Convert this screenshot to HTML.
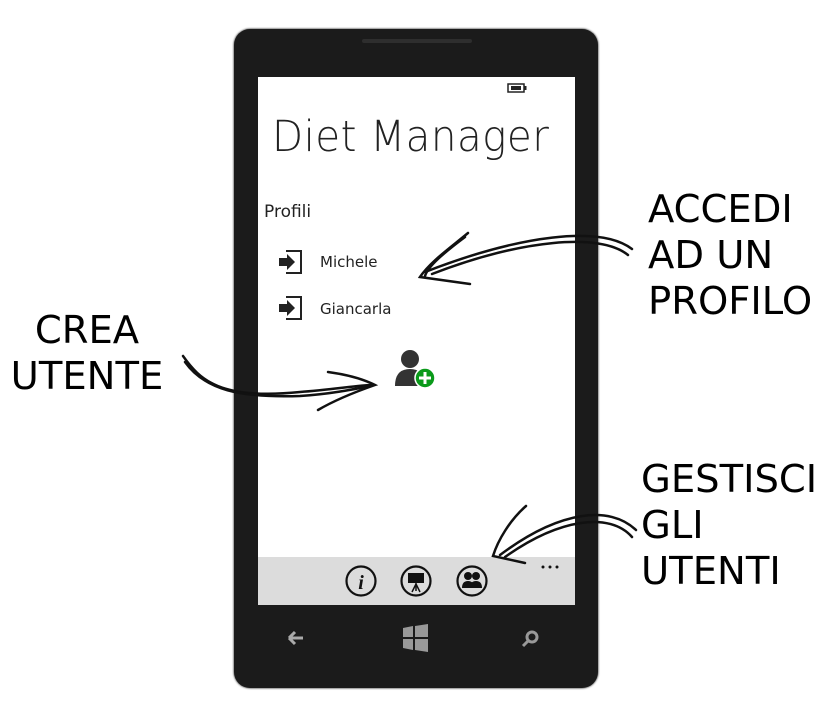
<!DOCTYPE html>
<html><head><meta charset="utf-8"><style>
body{margin:0;width:836px;height:702px;background:#fff;position:relative;overflow:hidden;font-family:"Liberation Sans",sans-serif}
.lbl{position:absolute;font-family:"DejaVu Sans",sans-serif;font-size:38.5px;line-height:46px;color:#000}
</style></head><body>
<div style="position:absolute;left:234px;top:29px;width:364px;height:659px;background:#1b1b1b;border-radius:16px;box-shadow:0 0 2px #000"></div>
<div style="position:absolute;left:362px;top:39px;width:110px;height:4px;background:#2e2e2e;border-radius:2px"></div>
<div style="position:absolute;left:258px;top:77px;width:317px;height:528px;background:#fff"></div>
<div style="position:absolute;left:258px;top:557px;width:317px;height:48px;background:#dcdcdc"></div>
<div style="position:absolute;left:272px;top:112px;font-family:'DejaVu Sans',sans-serif;font-weight:300;font-size:43px;color:#222;letter-spacing:0.5px;transform:scaleX(0.94);transform-origin:left">Diet Manager</div>
<div style="position:absolute;left:264px;top:202px;font-family:'DejaVu Sans',sans-serif;font-size:17px;color:#222">Profili</div>
<div style="position:absolute;left:320px;top:253px;font-family:'DejaVu Sans',sans-serif;font-size:15px;color:#222">Michele</div>
<div style="position:absolute;left:320px;top:300px;font-family:'DejaVu Sans',sans-serif;font-size:15px;color:#222">Giancarla</div>
<svg width="836" height="702" style="position:absolute;left:0;top:0">
<rect x="508" y="84" width="16" height="8" fill="none" stroke="#222" stroke-width="1.5"/><rect x="524.5" y="86" width="2" height="4" fill="#222"/><path d="M511 86 h10 v4 h-10z" fill="#222"/>
<g fill="none" stroke="#222" stroke-width="2">
<path d="M286 251 h15 v22 h-15"/><path d="M286 297 h15 v22 h-15"/>
</g>
<g fill="#222"><path d="M279 258 h8 v-4 l8 8 l-8 8 v-4 h-8z"/><path d="M279 304 h8 v-4 l8 8 l-8 8 v-4 h-8z"/></g>
<circle cx="410" cy="359" r="9" fill="#333"/>
<path d="M395 386 q0 -17 15 -17 q15 0 15 17z" fill="#333"/>
<circle cx="425" cy="378" r="10" fill="#0a9a1a" stroke="#fff" stroke-width="1.5"/>
<path d="M425 372 v12 M419 378 h12" stroke="#fff" stroke-width="3"/>
<g fill="none" stroke="#111" stroke-width="2.2">
<circle cx="361" cy="581" r="14.5"/><circle cx="416" cy="581" r="14.5"/><circle cx="472" cy="581" r="14.5"/>
</g>
<text x="361" y="589" font-family="Liberation Serif" font-style="italic" font-weight="bold" font-size="20" text-anchor="middle" fill="#111">i</text>
<rect x="408" y="573" width="16" height="10" fill="#111"/><path d="M416 583 v8 M416 584 l-4 8 M416 584 l4 8" stroke="#111" stroke-width="1.5"/>
<circle cx="468" cy="576" r="4" fill="#111"/><circle cx="476" cy="576" r="4" fill="#111"/><path d="M462 588 q0-7 6-7 q6 0 6 7z M470 588 q0-7 6-7 q6 0 6 7z" fill="#111"/>
<g fill="#111"><circle cx="543" cy="567" r="1.5"/><circle cx="550" cy="567" r="1.5"/><circle cx="557" cy="567" r="1.5"/></g>
<path d="M289 638 h14 M289 638 l6 -6 M289 638 l6 6" stroke="#aaa" stroke-width="3" fill="none"/>
<g fill="#999"><path d="M403 628 l10 -2 v11 h-10z M415 626 l13 -2 v13 h-13z M403 639 h10 v11 l-10 -2z M415 639 h13 v13 l-13 -2z"/></g>
<circle cx="532" cy="637" r="5" stroke="#999" stroke-width="3" fill="none"/><path d="M528 641 l-5 5" stroke="#999" stroke-width="3"/>
<g fill="none" stroke="#111" stroke-width="2.5" stroke-linecap="round">
<path d="M632 249 C600 225 520 235 425 272"/>
<path d="M628 255 C600 232 520 240 432 274"/>
<path d="M468 233 C450 248 430 262 420 277 L470 284"/>
<path d="M465 237 C445 252 428 266 425 276"/>
<path d="M183 356 C200 380 220 400 300 392 C330 390 360 385 372 385"/>
<path d="M185 362 C205 390 240 398 300 396 C330 394 350 390 370 386"/>
<path d="M328 372 C350 375 365 380 375 385 C355 392 335 400 318 410"/>
<path d="M636 530 C610 505 560 510 500 555"/>
<path d="M632 537 C610 512 560 518 505 557"/>
<path d="M526 506 C510 520 498 540 493 556 L525 563"/>
</g>
</svg>
<div class="lbl" style="left:648px;top:187px">ACCEDI<br>AD UN<br>PROFILO</div>
<div class="lbl" style="left:7px;top:308px;text-align:center;width:160px">CREA<br>UTENTE</div>
<div class="lbl" style="left:641px;top:457px">GESTISCI<br>GLI<br>UTENTI</div>
</body></html>
